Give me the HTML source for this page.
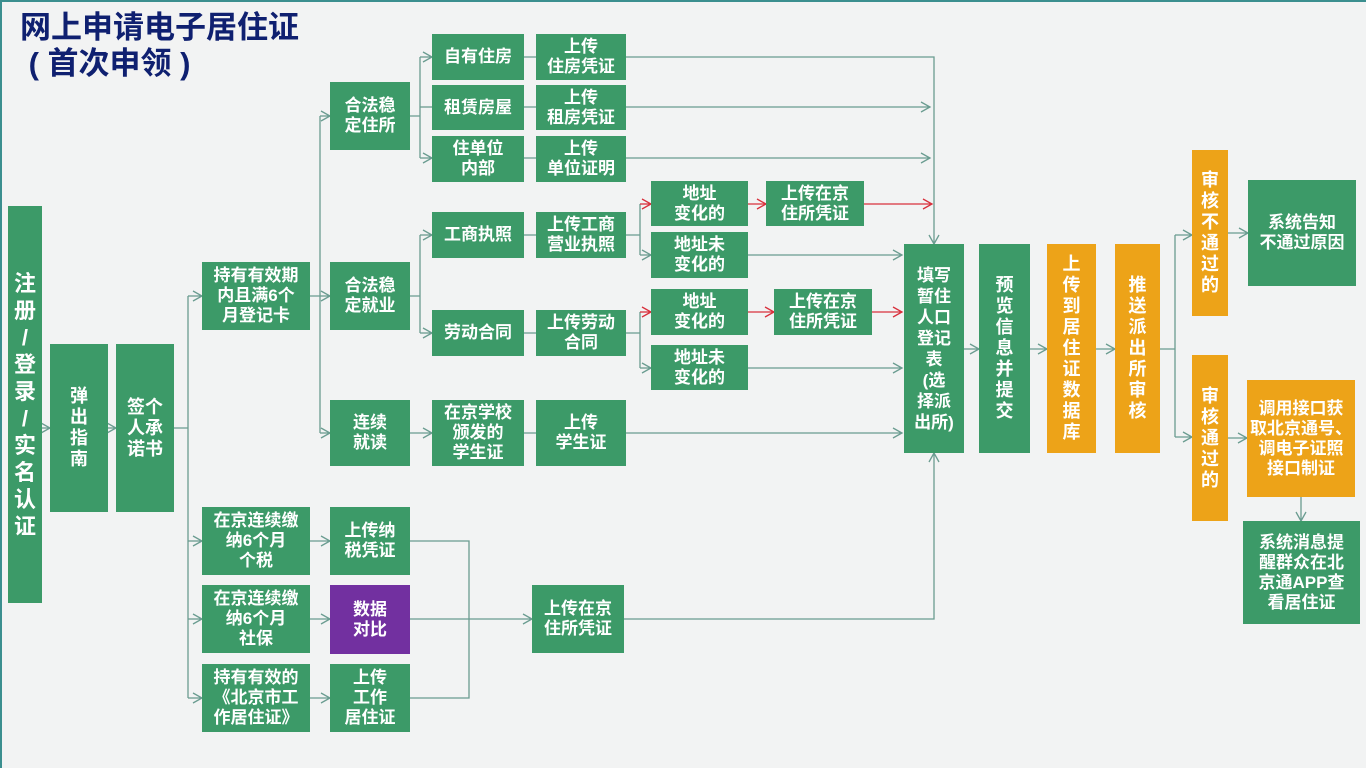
<!DOCTYPE html>
<html><head><meta charset="utf-8"><style>
*{margin:0;padding:0;box-sizing:border-box}
body{width:1366px;height:768px;overflow:hidden;background:#f2f3f3;position:relative;font-family:"Liberation Sans","Noto Sans CJK SC",sans-serif}
.b{position:absolute;background:#3c9a68;color:#fff;font-weight:bold;font-size:17px;line-height:20px;display:flex;align-items:center;justify-content:center;text-align:center;white-space:nowrap}
.v{font-size:18px;line-height:21px}
.o{background:#eda318}
.p{background:#7230a0}
.t{position:absolute;left:20px;top:10px;color:#0f2070;font-weight:bold;font-size:31px;line-height:36px}
svg{position:absolute;left:0;top:0}
</style></head><body>
<div style="position:absolute;left:0;top:0;width:1366px;height:768px;border:2px solid #3b8f8f;border-bottom:none;border-right:none"></div>
<div class="t">网上申请电子居住证<br>&nbsp;( 首次申领 )</div>
<svg width="1366" height="768">
<defs>
<marker id="a" markerWidth="12" markerHeight="12" refX="10" refY="6" orient="auto" markerUnits="userSpaceOnUse"><path d="M1,1 L10,6 L1,11" fill="none" stroke="#6a9c90" stroke-width="1.3"/></marker>
<marker id="r" markerWidth="12" markerHeight="12" refX="10" refY="6" orient="auto" markerUnits="userSpaceOnUse"><path d="M1,1 L10,6 L1,11" fill="none" stroke="#d8303c" stroke-width="1.3"/></marker>
</defs>
<g fill="none" stroke="#6a9c90" stroke-width="1.3">
<path d="M42,428H50" marker-end="url(#a)"/>
<path d="M108,428H116" marker-end="url(#a)"/>
<path d="M174,428H188M188,296V698"/>
<path d="M188,296H202" marker-end="url(#a)"/>
<path d="M188,541H202" marker-end="url(#a)"/>
<path d="M188,619H202" marker-end="url(#a)"/>
<path d="M188,698H202" marker-end="url(#a)"/>
<path d="M310,296H320M320,116V433"/>
<path d="M320,116H330" marker-end="url(#a)"/>
<path d="M320,296H330" marker-end="url(#a)"/>
<path d="M320,433H330" marker-end="url(#a)"/>
<path d="M310,541H330" marker-end="url(#a)"/>
<path d="M310,619H330" marker-end="url(#a)"/>
<path d="M310,698H330" marker-end="url(#a)"/>
<path d="M410,116H420M420,57V158"/>
<path d="M420,57H432" marker-end="url(#a)"/>
<path d="M420,107H432"/>
<path d="M420,158H432" marker-end="url(#a)"/>
<path d="M410,296H420M420,235V333"/>
<path d="M420,235H432" marker-end="url(#a)"/>
<path d="M420,333H432" marker-end="url(#a)"/>
<path d="M410,433H432" marker-end="url(#a)"/>
<path d="M524,57H536M524,107H536M524,158H536M524,235H536M524,333H536M524,433H536"/>
<path d="M626,57H934V244" marker-end="url(#a)"/>
<path d="M626,107H930" marker-end="url(#a)"/>
<path d="M626,158H930" marker-end="url(#a)"/>
<path d="M626,235H640M640,204V255"/>
<path d="M640,255H651" marker-end="url(#a)"/>
<path d="M626,333H640M640,312V368"/>
<path d="M640,368H651" marker-end="url(#a)"/>
<path d="M748,255H902" marker-end="url(#a)"/>
<path d="M748,368H902" marker-end="url(#a)"/>
<path d="M626,433H902" marker-end="url(#a)"/>
<path d="M410,541H469V698H410"/>
<path d="M410,619H532" marker-end="url(#a)"/>
<path d="M624,619H934V453" marker-end="url(#a)"/>
<path d="M964,349H979" marker-end="url(#a)"/>
<path d="M1030,349H1047" marker-end="url(#a)"/>
<path d="M1096,349H1115" marker-end="url(#a)"/>
<path d="M1160,349H1175M1175,235V437"/>
<path d="M1175,235H1192" marker-end="url(#a)"/>
<path d="M1175,437H1192" marker-end="url(#a)"/>
<path d="M1228,233H1248" marker-end="url(#a)"/>
<path d="M1228,438H1247" marker-end="url(#a)"/>
<path d="M1301,497V521" marker-end="url(#a)"/>
</g>
<g fill="none" stroke="#d8303c" stroke-width="1.3">
<path d="M640,204H651" marker-end="url(#r)"/>
<path d="M640,312H651" marker-end="url(#r)"/>
<path d="M748,204H766" marker-end="url(#r)"/>
<path d="M748,312H774" marker-end="url(#r)"/>
<path d="M864,204H932" marker-end="url(#r)"/>
<path d="M872,312H902" marker-end="url(#r)"/>
</g>
</svg>
<div class="b" style="left:8px;top:206px;width:34px;height:397px;font-size:22px;line-height:27px">注<br>册<br>/<br>登<br>录<br>/<br>实<br>名<br>认<br>证</div>
<div class="b v" style="left:50px;top:344px;width:58px;height:168px">弹<br>出<br>指<br>南</div>
<div class="b v" style="left:116px;top:344px;width:58px;height:168px">签个<br>人承<br>诺书</div>
<div class="b" style="left:202px;top:262px;width:108px;height:68px">持有有效期<br>内且满6个<br>月登记卡</div>
<div class="b" style="left:202px;top:507px;width:108px;height:68px">在京连续缴<br>纳6个月<br>个税</div>
<div class="b" style="left:202px;top:585px;width:108px;height:68px">在京连续缴<br>纳6个月<br>社保</div>
<div class="b" style="left:202px;top:664px;width:108px;height:68px">持有有效的<br>《北京市工<br>作居住证》</div>
<div class="b" style="left:330px;top:82px;width:80px;height:68px">合法稳<br>定住所</div>
<div class="b" style="left:330px;top:262px;width:80px;height:68px">合法稳<br>定就业</div>
<div class="b" style="left:330px;top:400px;width:80px;height:66px">连续<br>就读</div>
<div class="b" style="left:330px;top:507px;width:80px;height:68px">上传纳<br>税凭证</div>
<div class="b p" style="left:330px;top:585px;width:80px;height:69px">数据<br>对比</div>
<div class="b" style="left:330px;top:664px;width:80px;height:68px">上传<br>工作<br>居住证</div>
<div class="b" style="left:432px;top:34px;width:92px;height:46px">自有住房</div>
<div class="b" style="left:432px;top:85px;width:92px;height:45px">租赁房屋</div>
<div class="b" style="left:432px;top:136px;width:92px;height:46px">住单位<br>内部</div>
<div class="b" style="left:536px;top:34px;width:90px;height:46px">上传<br>住房凭证</div>
<div class="b" style="left:536px;top:85px;width:90px;height:45px">上传<br>租房凭证</div>
<div class="b" style="left:536px;top:136px;width:90px;height:46px">上传<br>单位证明</div>
<div class="b" style="left:432px;top:212px;width:92px;height:46px">工商执照</div>
<div class="b" style="left:432px;top:310px;width:92px;height:46px">劳动合同</div>
<div class="b" style="left:536px;top:212px;width:90px;height:46px">上传工商<br>营业执照</div>
<div class="b" style="left:536px;top:310px;width:90px;height:46px">上传劳动<br>合同</div>
<div class="b" style="left:432px;top:400px;width:92px;height:66px">在京学校<br>颁发的<br>学生证</div>
<div class="b" style="left:536px;top:400px;width:90px;height:66px">上传<br>学生证</div>
<div class="b" style="left:651px;top:181px;width:97px;height:45px">地址<br>变化的</div>
<div class="b" style="left:651px;top:232px;width:97px;height:46px">地址未<br>变化的</div>
<div class="b" style="left:651px;top:289px;width:97px;height:46px">地址<br>变化的</div>
<div class="b" style="left:651px;top:345px;width:97px;height:45px">地址未<br>变化的</div>
<div class="b" style="left:766px;top:181px;width:98px;height:45px">上传在京<br>住所凭证</div>
<div class="b" style="left:774px;top:289px;width:98px;height:46px">上传在京<br>住所凭证</div>
<div class="b" style="left:532px;top:585px;width:92px;height:68px">上传在京<br>住所凭证</div>
<div class="b" style="left:904px;top:244px;width:60px;height:209px;font-size:17px;line-height:21px">填写<br>暂住<br>人口<br>登记<br>表<br>(选<br>择派<br>出所)</div>
<div class="b v" style="left:979px;top:244px;width:51px;height:209px">预<br>览<br>信<br>息<br>并<br>提<br>交</div>
<div class="b o v" style="left:1047px;top:244px;width:49px;height:209px">上<br>传<br>到<br>居<br>住<br>证<br>数<br>据<br>库</div>
<div class="b o v" style="left:1115px;top:244px;width:45px;height:209px">推<br>送<br>派<br>出<br>所<br>审<br>核</div>
<div class="b o v" style="left:1192px;top:150px;width:36px;height:166px">审<br>核<br>不<br>通<br>过<br>的</div>
<div class="b o v" style="left:1192px;top:355px;width:36px;height:166px">审<br>核<br>通<br>过<br>的</div>
<div class="b" style="left:1248px;top:180px;width:108px;height:106px">系统告知<br>不通过原因</div>
<div class="b o" style="left:1247px;top:380px;width:108px;height:117px">调用接口获<br>取北京通号、<br>调电子证照<br>接口制证</div>
<div class="b" style="left:1243px;top:521px;width:117px;height:103px">系统消息提<br>醒群众在北<br>京通APP查<br>看居住证</div>
</body></html>
